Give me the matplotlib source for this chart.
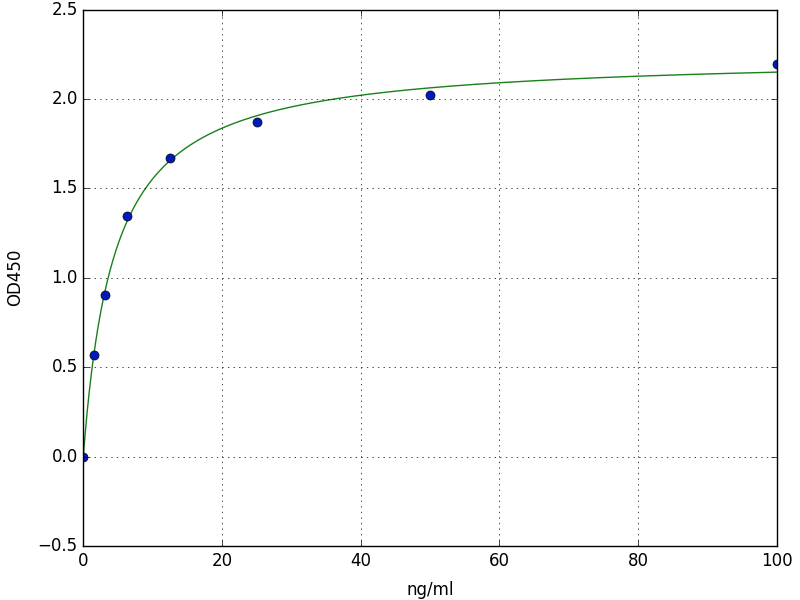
import numpy as np
import matplotlib
matplotlib.use("Agg")
import matplotlib.pyplot as plt

plt.style.use("classic")

conc = [0.0, 1.5625, 3.125, 6.25, 12.5, 25.0, 50.0, 100.0]
od450 = [0.0, 0.57, 0.905, 1.345, 1.67, 1.87, 2.025, 2.195]
x_label = "ng/ml"
y_label = "OD450"


def four_pl(x, p):
    a, b, c, d = p
    return d + (a - d) / (1.0 + (np.abs(x) / c) ** b)


def fit_4pl(x, y):
    x = np.asarray(x, float)
    y = np.asarray(y, float)
    p = np.array([0.0, 1.0, 5.0, 2.3])
    lam = 1e-2
    for _ in range(500):
        r = y - four_pl(x, p)
        J = np.zeros((len(x), 4))
        for k in range(4):
            dp = np.zeros(4)
            h = 1e-6 * max(1.0, abs(p[k]))
            dp[k] = h
            J[:, k] = (four_pl(x, p + dp) - four_pl(x, p - dp)) / (2 * h)
        A = J.T @ J
        g = J.T @ r
        step = np.linalg.solve(A + lam * np.diag(np.diag(A) + 1e-12), g)
        pn = p + step
        pn[2] = max(pn[2], 1e-3)
        pn[1] = max(pn[1], 1e-2)
        if np.sum((y - four_pl(x, pn)) ** 2) < np.sum(r ** 2):
            p = pn
            lam *= 0.3
        else:
            lam *= 10
    return p


params = fit_4pl(conc, od450)
xs = np.linspace(0, 100, 1000)
ys = four_pl(xs, params)

fig = plt.figure(figsize=(8, 6), dpi=100, facecolor="white")
ax = fig.add_axes([0.104, 0.09, 0.867, 0.894])
ax.plot(xs, ys, color=(0.1, 0.5, 0.1), linewidth=1.0)
ax.plot(conc, od450, "o", color=(0.0, 0.1, 0.75), markeredgecolor="black",
        markersize=6.5)
ax.set_xlim(0, 100)
ax.set_ylim(-0.5, 2.5)
ax.set_xticks([0, 20, 40, 60, 80, 100])
ax.set_yticks([-0.5, 0.0, 0.5, 1.0, 1.5, 2.0, 2.5])
ax.grid(True, linestyle=":", color="black")
ax.set_xlabel(x_label, labelpad=8)
ax.set_ylabel(y_label, labelpad=10)
fig.savefig("out.png", dpi=100, facecolor="white")
